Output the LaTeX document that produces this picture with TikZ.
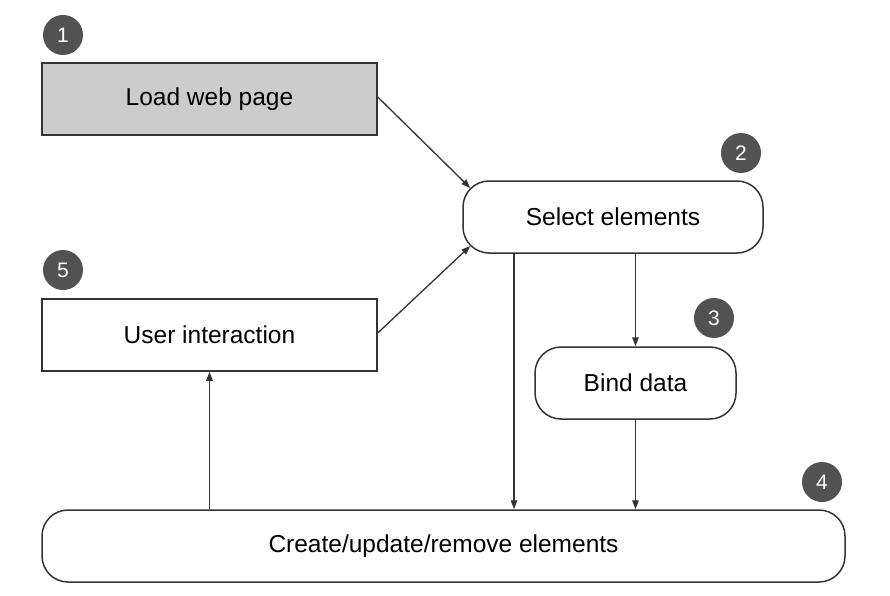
\documentclass[tikz,border=0pt]{standalone}
\usepackage{fontspec}
\setmainfont{Liberation Sans}
\usetikzlibrary{arrows.meta}
\definecolor{boxgray}{HTML}{CCCCCC}
\definecolor{stepgray}{HTML}{525252}
\definecolor{linegray}{HTML}{333333}
\tikzset{
  stepbox/.style={draw=linegray, line width=1.5pt, minimum height=72pt, inner sep=0pt,
    font=\fontsize{24.5}{28}\selectfont},
  roundbox/.style={stepbox, rounded corners=26pt},
  stepnum/.style={circle, fill=stepgray, text=white, minimum size=40pt, inner sep=0pt,
    font=\fontsize{21}{24}\selectfont},
  flow/.style={draw=linegray, line width=1.3pt, -{Triangle[length=9pt,width=6.5pt]}}
}
\begin{document}
\begin{tikzpicture}[x=1pt,y=-1pt]
    \useasboundingbox (0,0) rectangle (890,596);
    % steps
    \node[stepbox, fill=boxgray, minimum width=335pt] (load) at (209.5,99) {Load web page};
    \node[roundbox, minimum width=300pt] (select) at (613,217) {Select elements};
    \node[stepbox, minimum width=335pt] (user) at (209.5,335) {User interaction};
    \node[roundbox, minimum width=201pt] (bind) at (635.5,383) {Bind data};
    \node[roundbox, minimum width=803pt] (create) at (443.5,546) {Create/update/remove elements};
    % numbers
    \node[stepnum] (n1) at (63,35) {1};
    \node[stepnum] (n2) at (741,153) {2};
    \node[stepnum] (n3) at (714,318) {3};
    \node[stepnum] (n4) at (822,482) {4};
    \node[stepnum] (n5) at (63,270) {5};
    % arrows
    \coordinate (split) at ([xshift=-99pt]select.south);
    \draw[flow] ([yshift=2pt]load.east) -- ([xshift=8pt,yshift=29pt]select.west);
    \draw[flow] ([yshift=2pt]user.east) -- ([xshift=8pt,yshift=-29pt]select.west);
    \draw[flow] (split) -- (split |- create.north);
    \draw[flow] (select.south -| bind.north) -- (bind.north);
    \draw[flow] (bind.south) -- (bind.south |- create.north);
    \draw[flow] (user.south |- create.north) -- (user.south);
\end{tikzpicture}
\end{document}
